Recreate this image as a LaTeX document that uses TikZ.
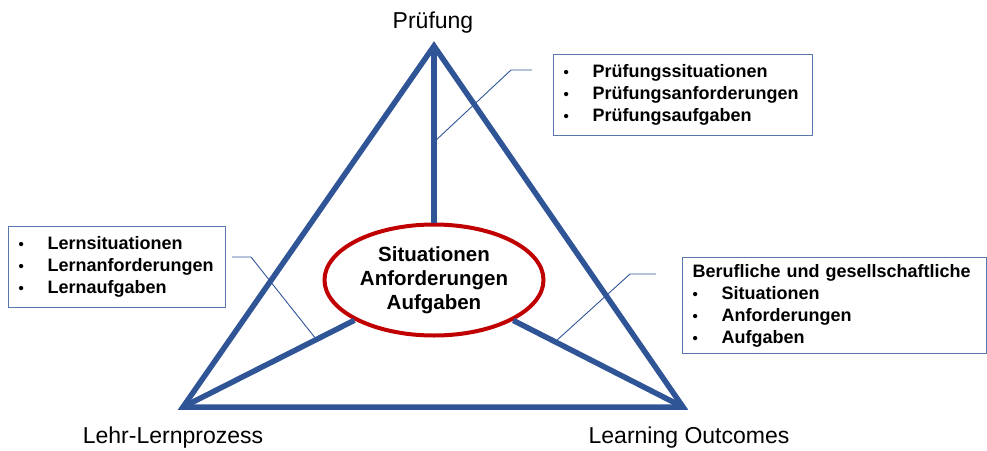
\documentclass[tikz,border=0pt]{standalone}
\usepackage{fontspec}
\setmainfont{Liberation Sans}
\usetikzlibrary{shapes.geometric}
\definecolor{tri}{RGB}{47,85,151}
\definecolor{ring}{RGB}{192,0,0}
\newcommand{\bul}{\makebox[29pt][l]{\fontsize{15}{15}\selectfont\textbullet}}

\begin{document}
\begin{tikzpicture}[x=1pt,y=-1pt,
  edge/.style={draw=tri,line width=5.5pt},
  leader/.style={draw=tri,line width=0.9pt},
  box/.style={draw=tri!80!white,line width=1.1pt,anchor=north west,inner xsep=10pt,inner ysep=0pt,align=left,font=\fontsize{18}{22}\selectfont\bfseries},
  corner/.style={font=\fontsize{23}{27}\selectfont,anchor=base}]
  \useasboundingbox (0,0) rectangle (987,450);
  \coordinate (0) at (434,46);
  \coordinate (1) at (183,407);
  \coordinate (2) at (683,407);
  \draw[edge,line join=miter] (0)--(1)--(2)--cycle;
  \node[ellipse,draw=ring,line width=4pt,fill=white,minimum width=219pt,minimum height=111pt,inner sep=0pt,align=center,font=\fontsize{20.5}{24}\selectfont\bfseries] (3) at (434,280) {Situationen\\Anforderungen\\Aufgaben};
  \draw[edge] (3)--(0);
  \draw[edge] (3)--(1);
  \draw[edge] (3)--(2);
  \node[corner] (4) at (433,28) {Prüfung};
  \node[corner] (5) at (173,443) {Lehr-Lernprozess};
  \node[corner] (6) at (689,443) {Learning Outcomes};
  \node[box,text width=239pt,minimum height=81pt] (7) at (553,54) {\bul Prüfungssituationen\\\bul Prüfungsanforderungen\\\bul Prüfungsaufgaben};
  \node[box,text width=197pt,minimum height=81pt] (8) at (8,226) {\bul Lernsituationen\\\bul Lernanforderungen\\\bul Lernaufgaben};
  \node[box,text width=284pt,minimum height=96pt] (9) at (682,257) {Berufliche und gesellschaftliche\\\bul Situationen\\\bul Anforderungen\\\bul Aufgaben};
  \coordinate (10) at (532,70);
  \coordinate (11) at (511,70);
  \coordinate (12) at (434,142);
  \coordinate (13) at (232,257);
  \coordinate (14) at (251,257);
  \coordinate (15) at (316,339);
  \coordinate (16) at (656,274);
  \coordinate (17) at (630,274);
  \coordinate (18) at (556,341);
  \draw[leader] (10)--(11)--(12);
  \draw[leader] (13)--(14)--(15);
  \draw[leader] (16)--(17)--(18);
\end{tikzpicture}
\end{document}
